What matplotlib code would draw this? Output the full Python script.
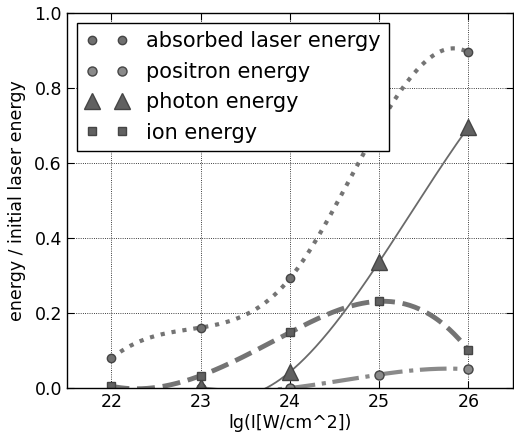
import numpy as np
import matplotlib.pyplot as plt

intensity = [22, 23, 24, 25, 26]
absorbed = [0.079, 0.161, 0.292, 0.70, 0.894]
ion = [0.005, 0.033, 0.148, 0.231, 0.101]
# positron and photon runs start at 23
intensity_hi = [23, 24, 25, 26]
positron = [0.0, 0.0, 0.036, 0.05]
photon = [0.003, 0.043, 0.336, 0.695]


def spline(x, y, xs):
    # not-a-knot cubic spline, pieces a + b t + c t^2 + d t^3
    x = np.asarray(x, float)
    y = np.asarray(y, float)
    n = len(x) - 1
    A = np.zeros((4 * n, 4 * n))
    r = np.zeros(4 * n)
    row = 0
    for i in range(n):
        h = x[i + 1] - x[i]
        A[row, 4 * i] = 1
        r[row] = y[i]
        row += 1
        A[row, 4 * i:4 * i + 4] = [1, h, h ** 2, h ** 3]
        r[row] = y[i + 1]
        row += 1
    for i in range(n - 1):
        h = x[i + 1] - x[i]
        A[row, 4 * i:4 * i + 4] = [0, 1, 2 * h, 3 * h ** 2]
        A[row, 4 * (i + 1) + 1] = -1
        row += 1
        A[row, 4 * i:4 * i + 4] = [0, 0, 2, 6 * h]
        A[row, 4 * (i + 1) + 2] = -2
        row += 1
    A[row, 3] = 1
    A[row, 7] = -1
    row += 1
    A[row, 4 * (n - 2) + 3] = 1
    A[row, 4 * (n - 1) + 3] = -1
    coef = np.linalg.solve(A, r).reshape(n, 4)
    idx = np.clip(np.searchsorted(x, xs) - 1, 0, n - 1)
    t = xs - x[idx]
    c = coef[idx]
    return c[:, 0] + c[:, 1] * t + c[:, 2] * t ** 2 + c[:, 3] * t ** 3


fig = plt.figure(figsize=(5.14, 4.37), dpi=100)
ax = fig.add_axes([0.130, 0.112, 0.868, 0.859])

xs = np.linspace(intensity[0], intensity[-1], 300)
xs_hi = np.linspace(intensity_hi[0], intensity_hi[-1], 250)
line_col = '#747474'
mk_face = '#616161'
mk_edge = '#454545'

ax.plot(xs, spline(intensity, absorbed, xs), ':', color=line_col, lw=3)
ax.plot(xs_hi, spline(intensity_hi, positron, xs_hi), '-.', color='#8a8a8a', lw=3)
ax.plot(xs_hi, spline(intensity_hi, photon, xs_hi), '-', color='#6a6a6a', lw=1.3)
ax.plot(xs, spline(intensity, ion, xs), '--', color=line_col, lw=3.5)

ax.plot(intensity, absorbed, 'o', ls='none', color='#707070', mec=mk_edge, ms=6,
        label='absorbed laser energy')
ax.plot(intensity_hi, positron, 'o', ls='none', color='#8a8a8a', mec=mk_edge, ms=6.5,
        label='positron energy')
ax.plot(intensity_hi, photon, '^', ls='none', color=mk_face, mec=mk_edge, ms=11,
        label='photon energy')
ax.plot(intensity, ion, 's', ls='none', color=mk_face, mec=mk_edge, ms=6,
        label='ion energy')

ax.set_xlim(21.5, 26.5)
ax.set_ylim(0, 1.0)
ax.set_xticks([22, 23, 24, 25, 26])
ax.set_yticks([0.0, 0.2, 0.4, 0.6, 0.8, 1.0])
ax.grid(True, ls=':', color='black', lw=0.6)
ax.tick_params(direction='in', top=True, right=True, labelsize=12.5, length=5)
for s in ax.spines.values():
    s.set_linewidth(1.0)
ax.set_xlabel('lg(I[W/cm^2])', fontsize=12.5, labelpad=2)
ax.set_ylabel('energy / initial laser energy', fontsize=12.5, labelpad=6)

leg = ax.legend(loc='upper left', numpoints=2, fontsize=15, fancybox=False,
                framealpha=1, edgecolor='black', borderaxespad=0.5,
                handlelength=2.05, handletextpad=0.85, borderpad=0.4)
leg.get_frame().set_linewidth(1.0)

fig.savefig('out.png', dpi=100)
